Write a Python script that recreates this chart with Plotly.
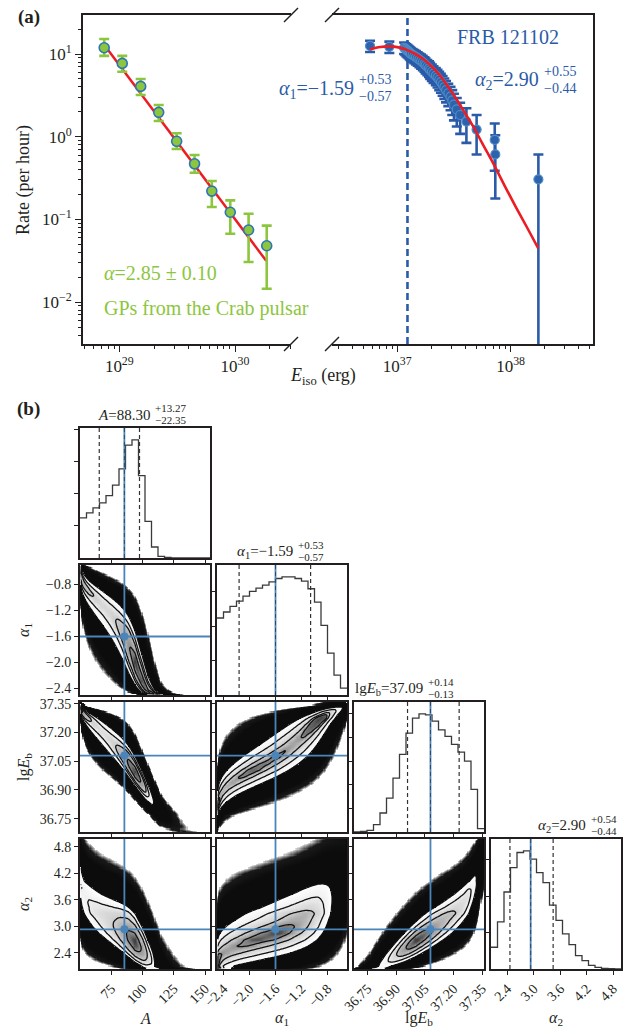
import math
import numpy as np
import plotly.graph_objects as go

W, H = 625, 1029
SERIF = "Liberation Serif, Times New Roman, serif"
GREEN = "#8cc63e"
BLUE = "#2b5ba8"
RED = "#ec1c24"
TRUTH = "#4a84b8"
INK = "#231f20"

# ---------------- Panel (a) data ----------------
crab_E = [7.4e28, 1.06e29, 1.53e29, 2.19e29, 3.13e29, 4.47e29, 6.3e29, 9.1e29, 1.31e30, 1.88e30]
crab_rate = [11.9, 7.7, 4.06, 1.97, 0.88, 0.47, 0.22, 0.122, 0.0745, 0.048]
crab_err_hi = [3.3, 1.8, 0.93, 0.45, 0.22, 0.13, 0.071, 0.048, 0.0425, 0.036]
crab_err_lo = [2.4, 1.6, 0.87, 0.42, 0.17, 0.103, 0.079, 0.055, 0.044, 0.0335]
crab_fit_E = [7.9e28, 1.86e30]
crab_fit_rate = [11.4, 0.0316]

frb_E = [5.75e36, 8.51e36, 1.148e37, 1.175e37, 1.202e37, 1.230e37, 1.259e37, 1.288e37,
         1.318e37, 1.365e37, 1.413e37, 1.462e37, 1.514e37, 1.567e37, 1.622e37, 1.679e37,
         1.738e37, 1.778e37, 1.841e37, 1.905e37, 1.950e37, 2.018e37, 2.089e37, 2.188e37,
         2.265e37, 2.344e37, 2.427e37, 2.512e37, 2.600e37, 2.692e37, 2.818e37, 2.951e37,
         3.055e37, 3.162e37, 3.350e37, 3.589e37, 4.074e37, 5.012e37, 7.244e37, 7.328e37,
         1.758e38]
frb_rate = [12.505, 12.2, 11.895, 11.59, 11.285, 10.98, 10.675, 10.37, 10.065, 9.76, 9.455,
            9.15, 8.845, 8.54, 8.235, 7.93, 7.625, 7.32, 7.015, 6.71, 6.405, 6.1, 5.795,
            5.49, 5.185, 4.88, 4.575, 4.27, 3.965, 3.66, 3.355, 3.05, 2.745, 2.44, 2.135,
            1.83, 1.525, 1.22, 0.915, 0.61, 0.305]
frb_err = [1.953, 1.929, 1.905, 1.880, 1.855, 1.830, 1.804, 1.778, 1.752, 1.725, 1.698,
           1.671, 1.642, 1.614, 1.585, 1.555, 1.525, 1.494, 1.463, 1.431, 1.398, 1.364,
           1.329, 1.294, 1.258, 1.220, 1.181, 1.141, 1.100, 1.057, 1.012, 0.964, 0.915,
           0.863, 0.807, 0.747, 0.682, 0.610, 0.528, 0.431, 0.305]
frb_err_lo = frb_err[:-1] + [0.3049]
frb_fit_logE = [36.759, 36.85, 36.935, 37.01, 37.083, 37.16, 37.229, 37.30, 37.377, 37.45,
                37.524, 37.60, 37.671, 37.75, 37.847, 37.95, 38.05, 38.15, 38.244]
frb_fit_logR = [1.057, 1.085, 1.092, 1.08, 1.05, 1.00, 0.94, 0.855, 0.74, 0.60, 0.45, 0.28,
                0.121, -0.08, -0.322, -0.60, -0.86, -1.11, -1.349]
frb_Eb = 1.23e37

# ---------------- Panel (b) data ----------------
par_lo = [50.0, -2.5, 36.68, 2.03]
par_hi = [154.0, -0.5, 37.36, 4.98]
hist_A = [120, 135, 150, 165, 187, 218, 267, 338, 354, 247, 110, 33, 5, 1.5, 0.4, 0.1, 0.03, 0.01, 0.003, 0.001]
hist_a1 = [232, 250, 267, 283, 298, 312, 322, 331, 341, 351, 356, 356, 351, 343, 320, 280, 210, 126, 60, 21]
hist_Eb = [0.3, 1.5, 5, 22, 57, 102, 162, 233, 297, 342, 355, 352, 333, 307, 287, 263, 240, 213, 128, 10]
hist_a2 = [65, 141, 230, 303, 348, 353, 328, 288, 258, 191, 145, 105, 73, 40, 25, 11, 5, 2, 1, 0.5]
hists = [hist_A, hist_a1, hist_Eb, hist_a2]
hist_tick_step = [96, 103.5, 71, 109]
truth = [85.5, -1.6, 37.08, 2.93]
q16 = [65.4, -2.16, 36.96, 2.46]
q84 = [97.6, -1.06, 37.23, 3.44]
medians = ["88.30", "−1.59", "37.09", "2.90"]
plus = ["+13.27", "+0.53", "+0.14", "+0.54"]
minus = ["−22.35", "−0.57", "−0.13", "−0.44"]
names = ["<i>A</i>", "<i>α</i><sub>1</sub>", "lg<i>E</i><sub>b</sub>", "<i>α</i><sub>2</sub>"]
# rank correlations of the 2D posteriors (row, col)
corr = {(1, 0): -0.90, (2, 0): -0.94, (3, 0): -0.75, (2, 1): 0.85, (3, 1): 0.60, (3, 2): 0.86}
tick_vals = [[75, 100, 125, 150], [-2.4, -2.0, -1.6, -1.2, -0.8],
             [36.75, 36.90, 37.05, 37.20, 37.35], [2.4, 3.0, 3.6, 4.2, 4.8]]
tick_text = [["75", "100", "125", "150"], ["−2.4", "−2.0", "−1.6", "−1.2", "−0.8"],
             ["36.75", "36.90", "37.05", "37.20", "37.35"], ["2.4", "3.0", "3.6", "4.2", "4.8"]]

fig = go.Figure()
annotations = []
shapes = []
layout = {}


def ann(text, x, y, size, color=INK, xanchor="center", yanchor="middle", angle=0):
    annotations.append(dict(text=text, x=x / W, y=1 - y / H, xref="paper", yref="paper",
                            showarrow=False, font=dict(size=size, color=color, family=SERIF),
                            xanchor=xanchor, yanchor=yanchor, textangle=angle))


def minor_vals(e0, e1):
    return [m * 10.0 ** e for e in range(e0, e1) for m in range(2, 10)]


# ---------------- Panel (a) axes ----------------
YR = [-2.5066, 1.4716]
common_a = dict(type="log", showgrid=False, zeroline=False, showline=True, linecolor=INK,
                linewidth=2, ticks="outside", ticklen=6, tickwidth=1.2, tickcolor=INK,
                automargin=False, tickfont=dict(family=SERIF, size=17, color=INK))
layout["xaxis"] = dict(common_a, domain=[83 / W, 291 / W], range=[28.686, 30.484], anchor="y",
                       mirror=True, tickvals=[1e29, 1e30],
                       ticktext=["10<sup>29</sup>", "10<sup>30</sup>"],
                       minor=dict(tickmode="array", tickvals=minor_vals(28, 31), ticklen=3,
                                  ticks="outside", tickcolor=INK, tickwidth=1))
layout["yaxis"] = dict(common_a, domain=[1 - 344 / H, 1 - 15 / H], range=YR, anchor="x",
                       tickvals=[0.01, 0.1, 1, 10],
                       ticktext=["10<sup>−2</sup>", "10<sup>−1</sup>", "10<sup>0</sup>", "10<sup>1</sup>"],
                       minor=dict(tickmode="array", tickvals=minor_vals(-3, 2), ticklen=3,
                                  ticks="outside", tickcolor=INK, tickwidth=1))
layout["xaxis2"] = dict(common_a, domain=[332 / W, 593 / W], range=[36.424, 38.727], anchor="y2",
                        mirror=True, tickvals=[1e37, 1e38],
                        ticktext=["10<sup>37</sup>", "10<sup>38</sup>"],
                        minor=dict(tickmode="array", tickvals=minor_vals(36, 39), ticklen=3,
                                   ticks="outside", tickcolor=INK, tickwidth=1))
layout["yaxis2"] = dict(type="log", domain=[1 - 344 / H, 1 - 15 / H], range=YR, anchor="x2",
                        side="right", showline=True, linecolor=INK, linewidth=2, ticks="",
                        automargin=False, showticklabels=False, showgrid=False, zeroline=False)

# Crab
fig.add_trace(go.Scatter(x=crab_fit_E, y=crab_fit_rate, mode="lines",
                         line=dict(color=RED, width=2.5), xaxis="x", yaxis="y"))
fig.add_trace(go.Scatter(x=crab_E, y=crab_rate, mode="markers", xaxis="x", yaxis="y",
                         marker=dict(size=10, color=GREEN, line=dict(color="#2e75b6", width=1.6)),
                         error_y=dict(type="data", symmetric=False, array=crab_err_hi,
                                      arrayminus=crab_err_lo, color=GREEN, thickness=2.6, width=5)))
# FRB
fig.add_trace(go.Scatter(x=[frb_Eb, frb_Eb], y=[10 ** YR[0], 10 ** YR[1]], mode="lines",
                         line=dict(color=BLUE, width=2.6, dash="7px,4px"), xaxis="x2", yaxis="y2"))
fig.add_trace(go.Scatter(x=frb_E, y=frb_rate, mode="markers", xaxis="x2", yaxis="y2",
                         marker=dict(size=9, color="#2d62ad", line=dict(color="#4f8dc6", width=1.2)),
                         error_y=dict(type="data", symmetric=False, array=frb_err,
                                      arrayminus=frb_err_lo, color=BLUE, thickness=2.6, width=5)))
fig.add_trace(go.Scatter(x=[10 ** v for v in frb_fit_logE], y=[10 ** v for v in frb_fit_logR],
                         mode="lines", line=dict(color=RED, width=2.6, shape="spline"),
                         xaxis="x2", yaxis="y2"))

# break marks
for bx in (291, 332):
    for by in (15, 344):
        shapes.append(dict(type="line", xref="paper", yref="paper", x0=(bx - 7) / W,
                           y0=1 - (by + 7) / H, x1=(bx + 7) / W, y1=1 - (by - 7) / H,
                           line=dict(color=INK, width=1.5)))

ann("<b>(a)</b>", 29, 17, 19)
ann("Rate (per hour)", 23, 180, 18, angle=-90)
ann("<i>E</i><sub>iso</sub> (erg)", 323, 376, 18)
ann("<i>α</i>=2.85 ± 0.10", 102, 273, 20, color=GREEN, xanchor="left")
ann("GPs from the Crab pulsar", 102, 308, 20, color=GREEN, xanchor="left")
ann("FRB 121102", 455, 37, 20, color=BLUE, xanchor="left")
ann("<i>α</i><sub>1</sub>=−1.59", 356, 90, 20, color=BLUE, xanchor="right")
ann("+0.53", 357, 80, 14, color=BLUE, xanchor="left")
ann("−0.57", 357, 97, 14, color=BLUE, xanchor="left")
ann("<i>α</i><sub>2</sub>=2.90", 541, 81, 20, color=BLUE, xanchor="right")
ann("+0.55", 542, 71, 14, color=BLUE, xanchor="left")
ann("−0.44", 542, 88, 14, color=BLUE, xanchor="left")

# ---------------- Panel (b): corner plot ----------------
zt = np.linspace(-7.5, 7.5, 6001)
Ft = np.array([0.5 * math.erfc(-z / math.sqrt(2.0)) for z in zt])


def ppf(u):
    return np.interp(np.clip(u, 1e-12, 1 - 1e-12), Ft, zt)


def marginal(h, lo, hi, g):
    edges = np.linspace(lo, hi, len(h) + 1)
    cen = 0.5 * (edges[:-1] + edges[1:])
    fine = np.linspace(lo, hi, 4001)
    ff = np.interp(fine, cen, np.asarray(h, float))
    cdf = np.concatenate([[0.0], np.cumsum(0.5 * (ff[1:] + ff[:-1]) * np.diff(fine))])
    tot = cdf[-1]
    return np.interp(g, fine, ff) / tot, np.interp(g, fine, cdf) / tot


NG = 110
S_BLACK, S_MAX = 3.5, 4.4
dens_scale = [[0.0, "rgb(225,225,225)"], [0.07, "rgb(140,140,140)"], [0.18, "rgb(25,25,25)"],
              [0.4995, "rgb(12,12,12)"], [0.5, "rgb(255,255,255)"], [0.62, "rgb(240,240,240)"],
              [0.75, "rgb(205,205,205)"], [0.88, "rgb(145,145,145)"], [1.0, "rgb(55,55,55)"]]

frame = dict(showgrid=False, zeroline=False, showline=True, mirror=True, linecolor=INK,
             linewidth=2, ticks="outside", ticklen=4, tickwidth=1, tickcolor=INK,
             automargin=False, tickfont=dict(family=SERIF, size=14, color=INK))

n = 3
for r in range(4):
    for c in range(r + 1):
        left = 80 + 137 * c
        top = 428 + 137 * r
        xa, ya = f"xaxis{n}", f"yaxis{n}"
        xr, yr = f"x{n}", f"y{n}"
        xax = dict(frame, domain=[left / W, (left + 130) / W], range=[par_lo[c], par_hi[c]],
                   anchor=yr, tickvals=tick_vals[c])
        if r == 3:
            xax.update(ticktext=tick_text[c], tickangle=-45)
        else:
            xax.update(showticklabels=False)
        if c == r:
            h = hists[r]
            ymax = 1.1 * max(h)
            step = hist_tick_step[r]
            yax = dict(frame, domain=[1 - (top + 130) / H, 1 - top / H], range=[0, ymax],
                       anchor=xr, tickvals=[step * k for k in range(1, 6) if step * k < ymax],
                       showticklabels=False)
            edges = np.linspace(par_lo[r], par_hi[r], len(h) + 1)
            fig.add_trace(go.Scatter(x=edges, y=list(h) + [h[-1]], mode="lines",
                                     line=dict(color="#3a3a3a", width=1.3, shape="hv"),
                                     xaxis=xr, yaxis=yr))
            for qv in (q16[r], q84[r]):
                fig.add_trace(go.Scatter(x=[qv, qv], y=[0, ymax], mode="lines",
                                         line=dict(color="#333333", width=1.2, dash="4px,3px"),
                                         xaxis=xr, yaxis=yr))
            fig.add_trace(go.Scatter(x=[truth[r], truth[r]], y=[0, ymax], mode="lines",
                                     line=dict(color=TRUTH, width=1.8), xaxis=xr, yaxis=yr))
            fig.add_trace(go.Scatter(x=[truth[r], truth[r]], y=[0, ymax], mode="lines",
                                     line=dict(color="#2a3a4a", width=0.8, dash="4px,3px"),
                                     xaxis=xr, yaxis=yr))
            # title
            ann(names[r] + "=" + medians[r], left + [72, 78, 71, 97][r], top - 13, 15,
                xanchor="right")
            ann(plus[r], left + [73, 79, 72, 98][r], top - 20, 11, xanchor="left")
            ann(minus[r], left + [73, 79, 72, 98][r], top - 8, 11, xanchor="left")
        else:
            yax = dict(frame, domain=[1 - (top + 130) / H, 1 - top / H],
                       range=[par_lo[r], par_hi[r]], anchor=xr, tickvals=tick_vals[r])
            if c == 0:
                yax.update(ticktext=tick_text[r])
            else:
                yax.update(showticklabels=False)
            gx = par_lo[c] + (np.arange(NG) + 0.5) * (par_hi[c] - par_lo[c]) / NG
            gy = par_lo[r] + (np.arange(NG) + 0.5) * (par_hi[r] - par_lo[r]) / NG
            fx, Fx = marginal(hists[c], par_lo[c], par_hi[c], gx)
            fy, Fy = marginal(hists[r], par_lo[r], par_hi[r], gy)
            zx = np.clip(ppf(Fx), -5, 5)[None, :]
            zy = np.clip(ppf(Fy), -5, 5)[:, None]
            rho = corr[(r, c)]
            q = (rho ** 2 * (zx ** 2 + zy ** 2) - 2 * rho * zx * zy) / (2 * (1 - rho ** 2))
            p = np.exp(-q) / math.sqrt(1 - rho ** 2) * fx[None, :] * fy[:, None]
            flat = p.ravel()
            order = np.argsort(-flat)
            cs = np.cumsum(flat[order]) / flat.sum()
            m = np.empty_like(cs)
            m[order] = cs
            s = np.sqrt(-2 * np.log(1 - np.clip(m, 0, 1 - 1e-15))).reshape(p.shape)
            v = np.full(p.shape, np.nan)
            inner = s <= 2.0
            v[inner] = 2.0 - s[inner] / 2.0
            blk = (s > 2.0) & (s <= S_BLACK)
            v[blk] = 0.999
            fade = (s > S_BLACK) & (s <= S_MAX)
            v[fade] = 0.999 * (S_MAX - s[fade]) / (S_MAX - S_BLACK)
            fig.add_trace(go.Heatmap(x=gx, y=gy, z=v, zmin=0, zmax=2, colorscale=dens_scale,
                                     showscale=False, hoverinfo="skip", xaxis=xr, yaxis=yr))
            fig.add_trace(go.Contour(x=gx, y=gy, z=s, showscale=False, hoverinfo="skip",
                                     contours=dict(start=0.5, end=2.0, size=0.5, coloring="lines"),
                                     colorscale=[[0, "#111"], [1, "#111"]],
                                     line=dict(width=1.3, smoothing=1.0), xaxis=xr, yaxis=yr))
            fig.add_trace(go.Scatter(x=[truth[c], truth[c]], y=[par_lo[r], par_hi[r]], mode="lines",
                                     line=dict(color=TRUTH, width=1.8), xaxis=xr, yaxis=yr))
            fig.add_trace(go.Scatter(x=[par_lo[c], par_hi[c]], y=[truth[r], truth[r]], mode="lines",
                                     line=dict(color=TRUTH, width=1.8), xaxis=xr, yaxis=yr))
            fig.add_trace(go.Scatter(x=[truth[c]], y=[truth[r]], mode="markers",
                                     marker=dict(color=TRUTH, size=8), xaxis=xr, yaxis=yr))
        layout[xa] = xax
        layout[ya] = yax
        n += 1

ann("<b>(b)</b>", 29, 409, 19)
for i in range(4):
    ann(names[i], 145 + 137 * i, 1018, 16)
for i in (1, 2, 3):
    ann(names[i], 24, 493 + 137 * i, 16, angle=-90)

fig.update_layout(**layout)
fig.update_layout(width=W, height=H, margin=dict(l=0, r=0, t=0, b=0, pad=0, autoexpand=False),
                  showlegend=False, plot_bgcolor="white", paper_bgcolor="white",
                  annotations=annotations, shapes=shapes, font=dict(family=SERIF))
fig.write_html("out.html", config={"displayModeBar": False},
               post_script=("document.documentElement.style.margin='0';"
                            "document.documentElement.style.padding='0';"
                            "document.documentElement.style.overflow='hidden';"
                            "document.body.style.margin='0';document.body.style.padding='0';"
                            "document.body.style.overflow='hidden';"))
